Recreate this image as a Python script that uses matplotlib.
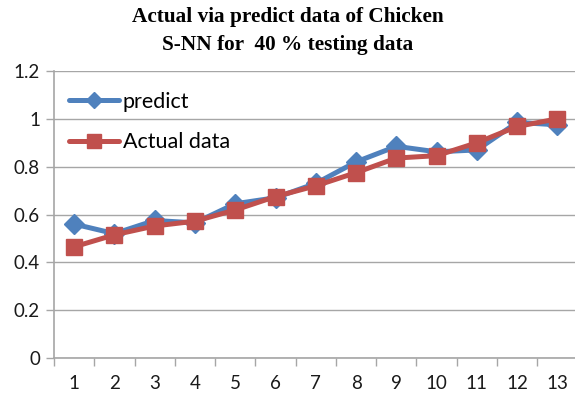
import matplotlib
matplotlib.use("Agg")
import matplotlib.pyplot as plt

categories = list(range(1, 14))
predict = [0.56, 0.52, 0.575, 0.565, 0.645, 0.67, 0.73, 0.82, 0.885, 0.862, 0.87, 0.985, 0.975]
actual = [0.465, 0.515, 0.552, 0.572, 0.619, 0.675, 0.72, 0.775, 0.836, 0.846, 0.90, 0.968, 1.0]
yticks = [0, 0.2, 0.4, 0.6, 0.8, 1.0, 1.2]
ytick_labels = ["0", "0.2", "0.4", "0.6", "0.8", "1", "1.2"]
title_lines = ["Actual via predict data of Chicken", "S-NN for  40 % testing data"]

W, H = 575, 394
fig = plt.figure(figsize=(W / 100, H / 100), dpi=100)
ax = fig.add_axes([54 / W, (H - 358) / H, (577.6 - 54) / W, (358 - 71) / H])

blue = "#4f81bd"
red = "#c0504d"
grid = "#a6a6a6"

ax.plot(categories, predict, color=blue, lw=3.6, marker="D", markersize=10.5,
        label="predict", zorder=3, solid_capstyle="round")
ax.plot(categories, actual, color=red, lw=3.6, marker="s", markersize=12,
        label="Actual data", zorder=4, solid_capstyle="round")

ax.set_xlim(0.5, 13.5)
ax.set_ylim(0, 1.2)
ax.set_yticks(yticks)
ax.set_yticklabels(ytick_labels)
ax.set_xticks(categories)
ax.set_xticks([c + 0.5 for c in [0] + categories], minor=True)
ax.tick_params(axis="x", which="major", length=0, pad=12)
ax.tick_params(axis="x", which="minor", length=6, color=grid, width=1)
ax.tick_params(axis="y", length=6, color=grid, width=1, pad=4)
ax.yaxis.grid(True, color=grid, lw=1)
ax.set_axisbelow(True)
for s in ["top", "right"]:
    ax.spines[s].set_visible(False)
for s in ["left", "bottom"]:
    ax.spines[s].set_color(grid)
    ax.spines[s].set_linewidth(1.2)

for lab in ax.get_xticklabels() + ax.get_yticklabels():
    lab.set_fontfamily("Lato")
    lab.set_fontsize(13.5)
    lab.set_color("#1a1a1a")

leg = ax.legend(loc="upper left", bbox_to_anchor=(0.0, 0.98), frameon=False,
                prop={"family": "Lato", "size": 15.5}, handlelength=2.3,
                handletextpad=0.2, labelspacing=0.95, borderaxespad=0.3,
                markerscale=0.8)

for i, line in enumerate(title_lines):
    fig.text(0.5, 1 - (17 + 28 * i) / H, line, ha="center", va="center",
             fontfamily="Liberation Serif", fontweight="bold", fontsize=15.3)

fig.savefig("out.png", dpi=100)
